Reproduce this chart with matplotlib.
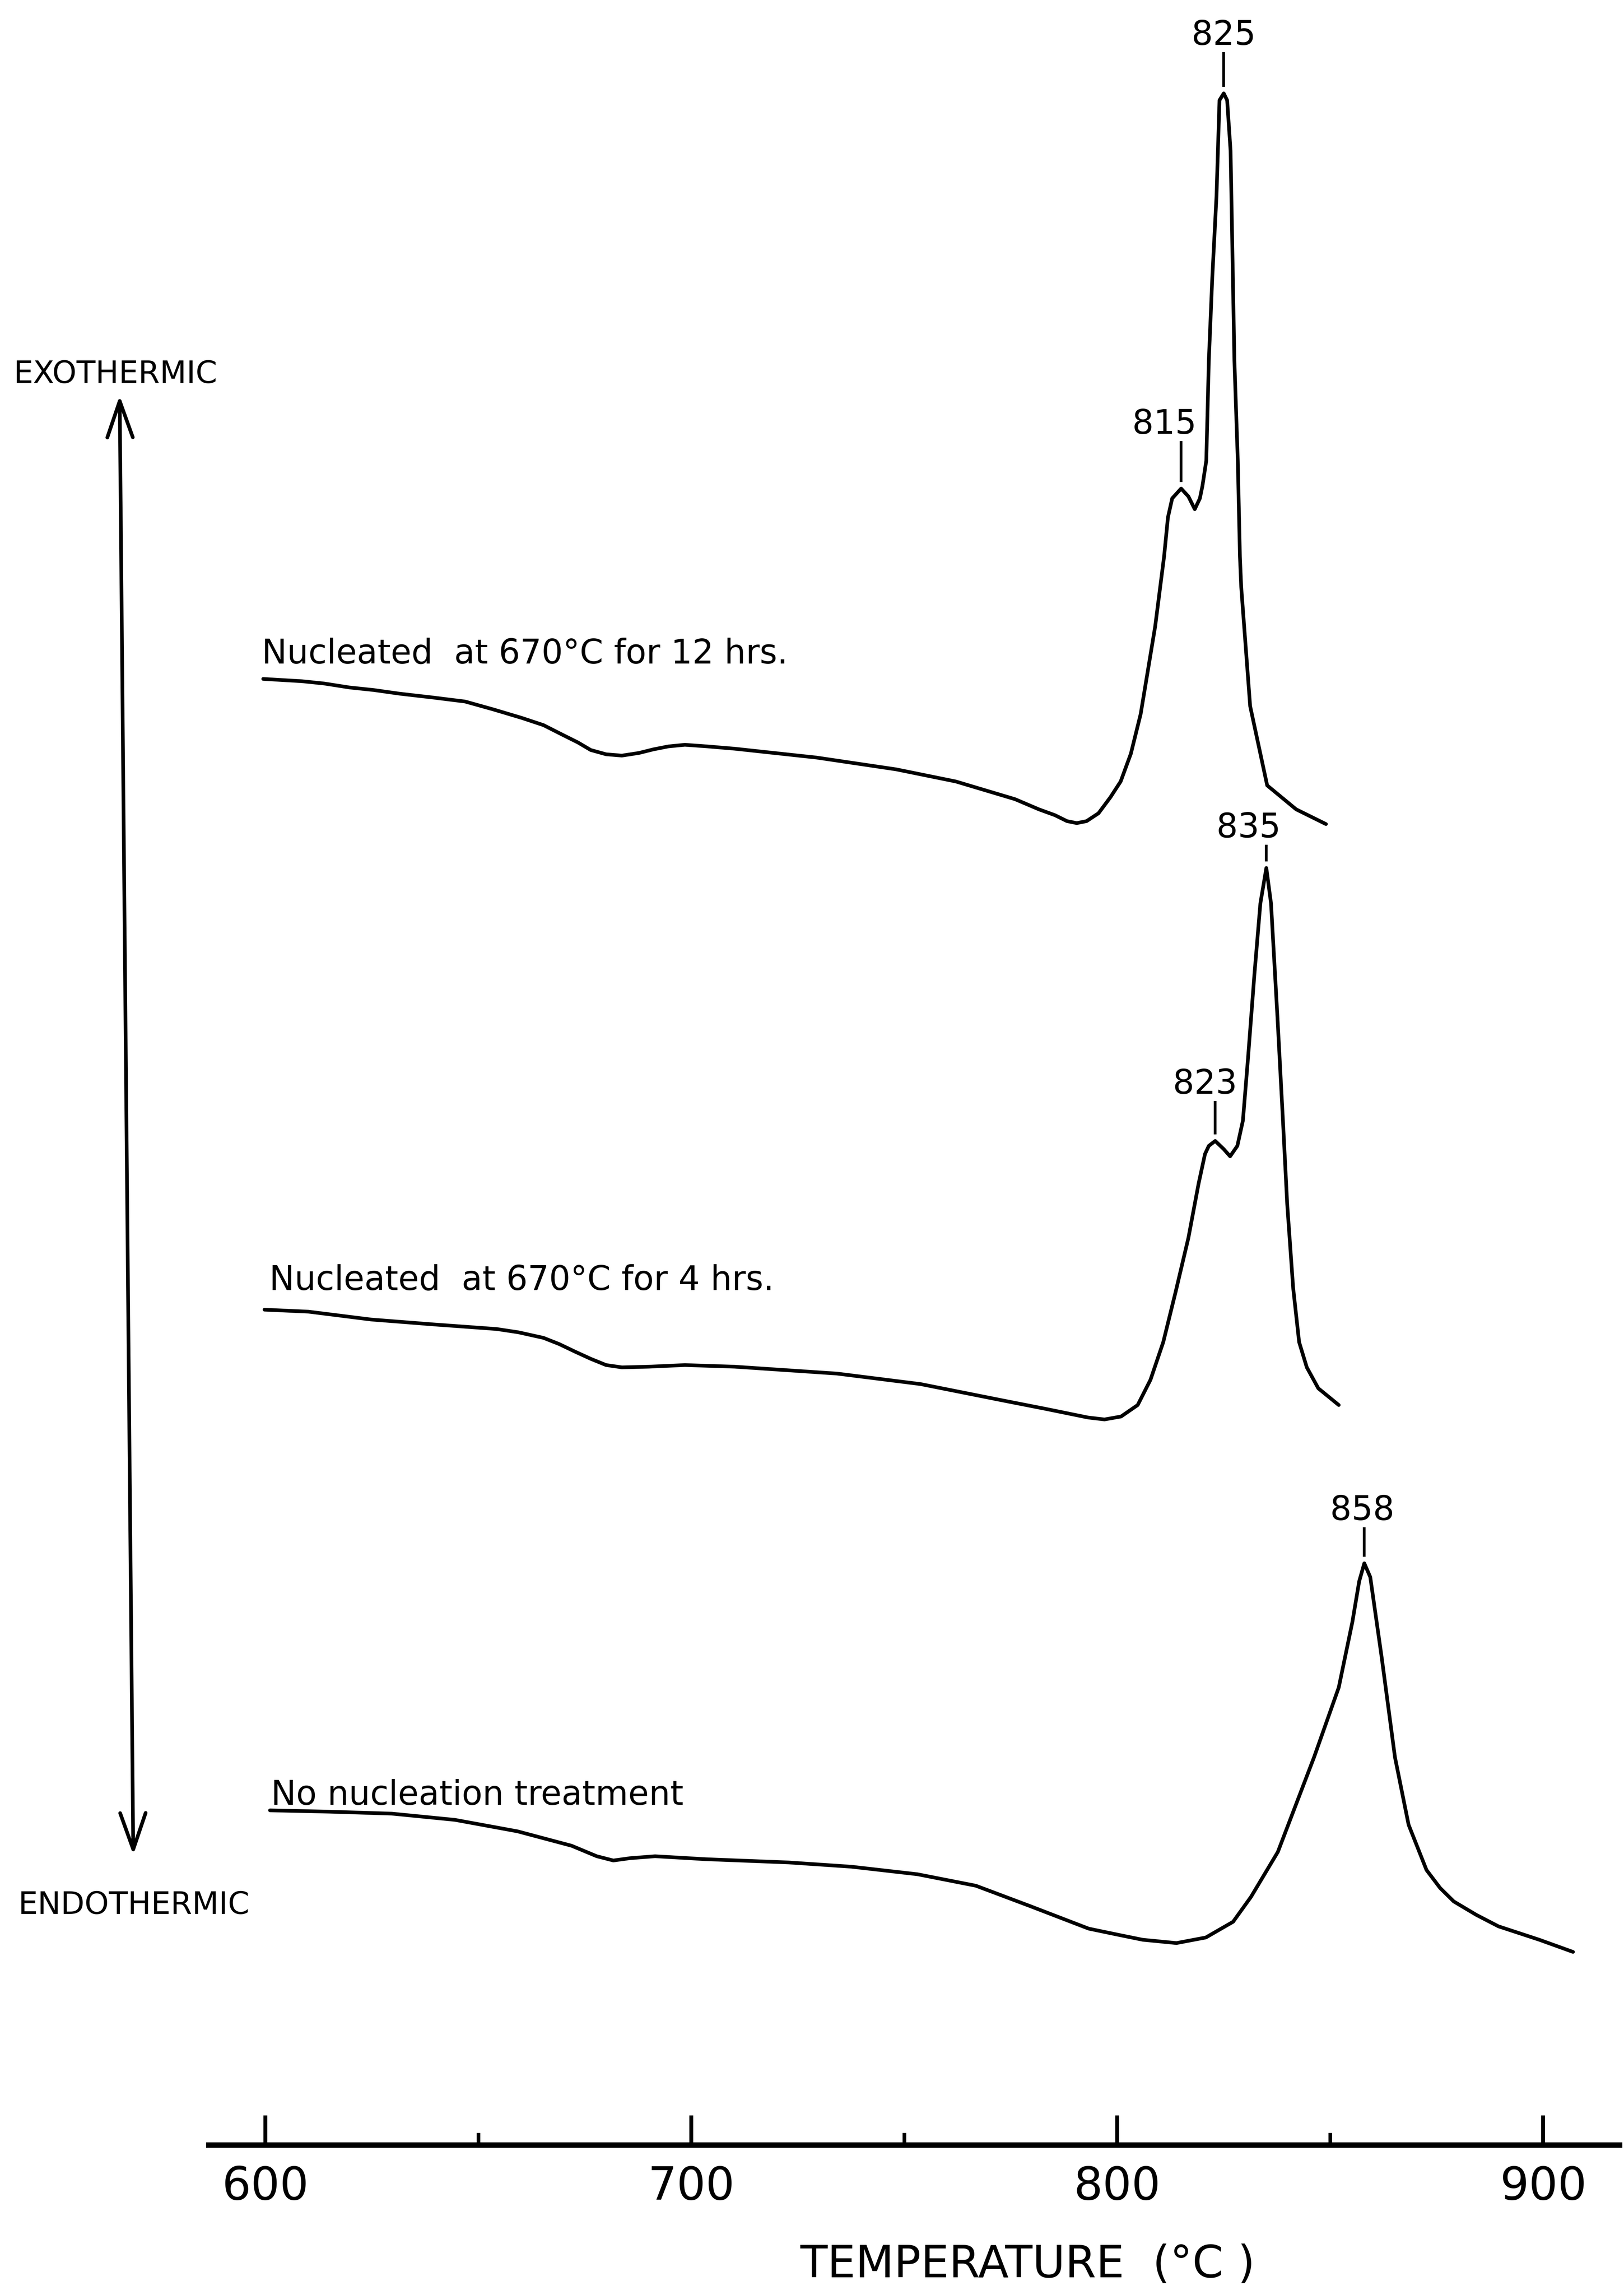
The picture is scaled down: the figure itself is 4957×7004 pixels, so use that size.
import numpy as np
import matplotlib.pyplot as plt

plt.rcParams['font.family'] = 'DejaVu Sans'

# DTA traces, temperature in deg C, signal in chart units relative to the trace start
t_12h = [599.5, 608.6, 613.8, 619.7, 625.5, 631.5, 639.5, 646.9, 653.5, 660.2,
         665.3, 669.7, 673.4, 676.4, 680.0, 683.7, 687.7, 691.1, 694.6, 698.5,
         703.8, 710.2, 729.4, 748.1, 762.1, 776.0, 781.6, 785.4, 788.2, 790.5,
         792.8, 795.6, 798.4, 800.8, 803.2, 805.5, 808.9, 811.0, 811.9, 812.9,
         815.0, 816.7, 818.2, 819.4, 820.0, 820.9, 821.2, 821.5, 822.3, 823.3,
         824.0, 825.0, 825.8, 826.6, 826.8, 827.5, 828.3, 828.8, 829.1, 831.2,
         835.2, 842.0, 849.0]
dta_12h = [0.0, -0.07, -0.14, -0.26, -0.34, -0.45, -0.57, -0.69, -0.93, -1.19,
           -1.41, -1.70, -1.94, -2.17, -2.30, -2.34, -2.26, -2.15, -2.06, -2.01,
           -2.06, -2.13, -2.40, -2.76, -3.13, -3.67, -3.98, -4.16, -4.34, -4.40,
           -4.34, -4.10, -3.61, -3.13, -2.28, -1.07, 1.60, 3.74, 4.93, 5.51,
           5.81, 5.57, 5.18, 5.51, 5.89, 6.66, 8.19, 9.72, 12.22, 14.74,
           17.66, 17.87, 17.66, 16.12, 14.74, 9.72, 6.66, 3.74, 2.81, -0.83,
           -3.25, -3.98, -4.43]

t_4h = [599.8, 610.1, 624.8, 639.5, 654.3, 659.4, 665.3, 669.0, 672.7, 676.4,
        680.0, 683.7, 690.0, 698.5, 710.2, 734.2, 753.8, 773.5, 783.3, 793.1,
        797.0, 800.9, 804.8, 807.8, 810.8, 813.7, 816.7, 819.1, 820.6, 821.5,
        823.0, 825.0, 826.5, 828.2, 829.5, 830.7, 832.2, 833.6, 835.0, 836.1,
        837.6, 838.9, 839.9, 841.3, 842.7, 844.5, 847.2, 852.0]
dta_4h = [0.0, -0.06, -0.30, -0.45, -0.59, -0.69, -0.86, -1.05, -1.28, -1.50,
          -1.69, -1.76, -1.74, -1.69, -1.74, -1.95, -2.27, -2.78, -3.03, -3.29,
          -3.35, -3.26, -2.91, -2.14, -0.99, 0.54, 2.19, 3.85, 4.75, 5.00,
          5.15, 4.90, 4.68, 5.00, 5.77, 7.68, 10.23, 12.40, 13.48, 12.40,
          8.95, 5.77, 3.22, 0.66, -0.99, -1.76, -2.40, -2.91]

t_none = [601.1, 615.0, 629.7, 644.5, 659.2, 671.9, 677.8, 681.7, 685.6, 691.5,
          703.3, 722.9, 737.6, 753.1, 766.8, 779.5, 793.3, 800.7, 806.0, 813.9,
          820.8, 827.2, 831.4, 837.7, 846.2, 852.0, 855.2, 856.8, 858.0, 859.4,
          862.1, 865.2, 868.4, 872.6, 875.8, 879.0, 884.3, 889.5, 899.1, 907.0]
dta_none = [0.0, -0.04, -0.10, -0.29, -0.64, -1.08, -1.40, -1.53, -1.46, -1.40,
            -1.49, -1.59, -1.72, -1.95, -2.30, -2.92, -3.61, -3.81, -3.95, -4.05,
            -3.88, -3.40, -2.64, -1.27, 1.62, 3.75, 5.75, 6.99, 7.54, 7.12,
            4.65, 1.62, -0.44, -1.82, -2.37, -2.78, -3.19, -3.54, -3.95, -4.32]

trace_labels = ['Nucleated  at 670°C for 12 hrs.',
                'Nucleated  at 670°C for 4 hrs.',
                'No nucleation treatment']
peaks_12h = [815, 825]
peaks_4h = [823, 835]
peaks_none = [858]

major_ticks = [600, 700, 800, 900]
minor_ticks = [650, 750, 850]

# layout
baseline = [49.32, 30.07, 14.79]
label_pos = [(599.2, 49.80), (600.9, 30.68), (601.3, 14.96)]
marker_len = {815: 1.25, 825: 1.06, 823: 1.02, 835: 0.51, 858: 0.90}
label_dx = {815: -3.9, 825: 0.0, 823: -2.4, 835: -4.2, 858: -0.5}

LW = 8
FS = 74

fig = plt.figure(figsize=(49.57, 70.04), dpi=100)
ax = fig.add_axes([0.1285, 0.0654, 0.8687, 0.9346])
ax.set_xlim(586.7, 917.9)
ax.set_ylim(4.58, 70.04)

traces = [(t_12h, dta_12h, peaks_12h), (t_4h, dta_4h, peaks_4h),
          (t_none, dta_none, peaks_none)]

for (t, d, peaks), off, lab, (lx, ly) in zip(traces, baseline, trace_labels, label_pos):
    y = np.array(d) + off
    ax.plot(t, y, color='black', lw=LW, solid_joinstyle='round',
            solid_capstyle='round')
    ax.text(lx, ly, lab, fontsize=FS, ha='left', va='baseline')
    for p in peaks:
        yp = np.interp(p, t, y)
        y0 = yp + 0.2
        y1 = y0 + marker_len[p]
        ax.plot([p, p], [y0, y1], color='black', lw=6, solid_capstyle='butt')
        ax.text(p + label_dx[p], y1 + 0.22, str(p), fontsize=FS,
                ha='center', va='baseline')

# exo / endo direction arrow
ax.annotate('', xy=(565.8, 57.97), xytext=(569.0, 13.43),
            arrowprops=dict(arrowstyle='<->,head_length=80,head_width=28',
                            lw=8, color='black', shrinkA=0, shrinkB=0,
                            mutation_scale=1),
            annotation_clip=False)
ax.text(564.8, 58.35, 'EXOTHERMIC', fontsize=68, ha='center', va='baseline')
ax.text(569.2, 11.63, 'ENDOTHERMIC', fontsize=68, ha='center', va='baseline')

# temperature axis
for side in ['left', 'right', 'top']:
    ax.spines[side].set_visible(False)
ax.spines['bottom'].set_linewidth(12)
ax.set_yticks([])
ax.set_xticks(major_ticks)
ax.set_xticks(minor_ticks, minor=True)
ax.set_xticklabels([str(v) for v in major_ticks])
ax.tick_params(axis='x', which='major', direction='in', length=65, width=8.5,
               labelsize=100, pad=44)
ax.tick_params(axis='x', which='minor', direction='in', length=27, width=8)
ax.text(779.0, 0.54, 'TEMPERATURE  (°C )', fontsize=98, ha='center',
        va='baseline', clip_on=False)

fig.savefig('out.png', dpi=100, facecolor='white')
